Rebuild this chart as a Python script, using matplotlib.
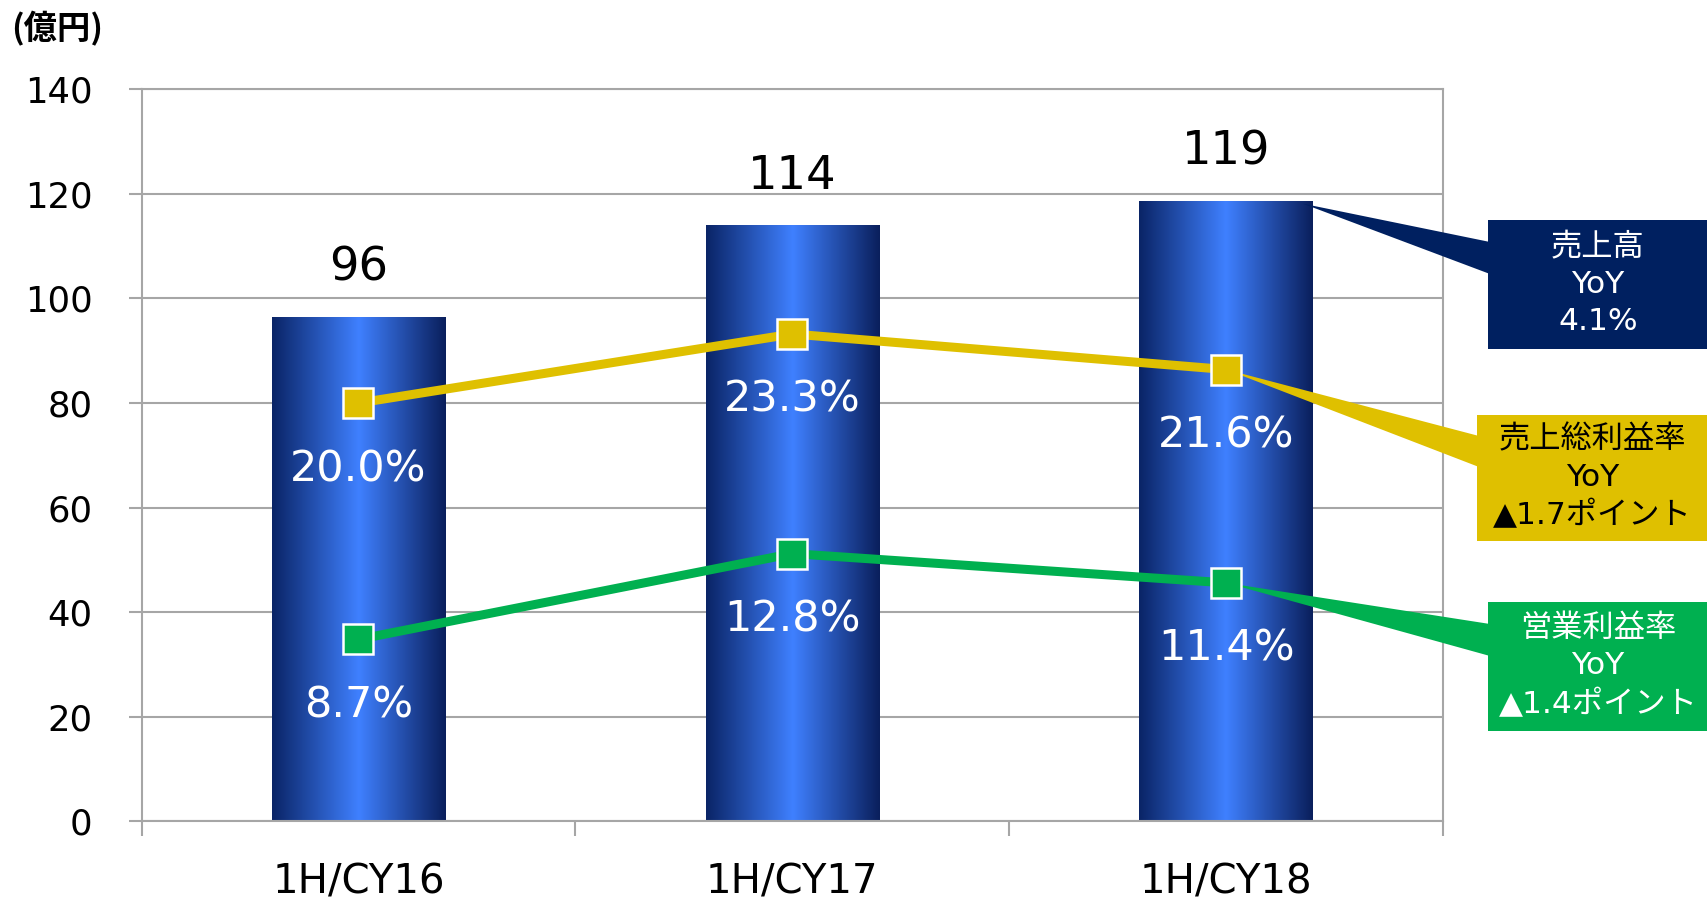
import numpy as np
import matplotlib
matplotlib.use("Agg")
import matplotlib.pyplot as plt
from matplotlib.colors import LinearSegmentedColormap
from matplotlib.patches import Polygon, Rectangle
from matplotlib.transforms import IdentityTransform

# ---- data ----
categories = ["1H/CY16", "1H/CY17", "1H/CY18"]
sales = [96.4, 114.0, 118.7]
sales_labels = ["96", "114", "119"]
gross_margin = [20.0, 23.3, 21.6]
op_margin = [8.7, 12.8, 11.4]
yticks = [0, 20, 40, 60, 80, 100, 120, 140]
callout_texts = ["売上高\nYoY\n4.1%",
                 "売上総利益率\nYoY\n▲1.7ポイント",
                 "営業利益率\nYoY\n▲1.4ポイント"]

NAVY = "#002060"
GOLD = "#DFC000"
GREEN = "#00B050"
GRID = "#A6A6A6"
FONTS = ["DejaVu Sans", "Noto Sans CJK JP"]

W, H = 1708, 902
fig = plt.figure(figsize=(W / 100, H / 100), dpi=100)
ax = fig.add_axes([141.6 / W, 1 - 821.3 / H, (1443 - 141.6) / W, (821.3 - 89.3) / H])

x = np.arange(len(categories))
bars = ax.bar(x, sales, width=0.4, color="none", zorder=2)
cmap = LinearSegmentedColormap.from_list(
    "barg", [(0, "#0A2466"), (0.5, "#3F80FF"), (1, "#0A1F5C")])
grad = np.linspace(0, 1, 256).reshape(1, -1)
for b in bars:
    im = ax.imshow(grad, cmap=cmap, aspect="auto", interpolation="bilinear",
                   extent=[b.get_x(), b.get_x() + b.get_width(), 0, b.get_height()],
                   zorder=2)
    im.set_clip_path(b)

ax.set_xlim(-0.5, 2.5)
ax.set_ylim(0, 140)
ax.set_yticks(yticks)
ax.set_yticklabels([str(v) for v in yticks], fontsize=25.5, family=FONTS)
ax.yaxis.grid(True, color=GRID, lw=1.5)
ax.set_axisbelow(True)
ax.tick_params(axis="y", length=13 / 1.389, width=1.5, color=GRID, pad=26)
ax.set_xticks(x)
ax.set_xticklabels(categories, fontsize=29, family=FONTS)
ax.tick_params(axis="x", which="major", length=0, pad=30)
ax.set_xticks([-0.5, 0.5, 1.5, 2.5], minor=True)
ax.tick_params(axis="x", which="minor", length=15 / 1.389, width=1.5, color=GRID)
for s in ax.spines.values():
    s.set_color(GRID)
    s.set_linewidth(1.5)

for xi, v, lab in zip(x, sales, sales_labels):
    ax.annotate(lab, (xi, v), xytext=(0, 49 * 0.72), textcoords="offset points",
                ha="center", va="center", fontsize=33.5, family=FONTS, color="black")

# margins on hidden secondary axis
ax2 = ax.twinx()
ax2.set_ylim(0, 35)
ax2.set_xlim(-0.5, 2.5)
ax2.axis("off")
for vals, col in [(gross_margin, GOLD), (op_margin, GREEN)]:
    ax2.plot(x, vals, color=col, lw=6.5, marker="s", markersize=21,
             markerfacecolor=col, markeredgecolor="white", markeredgewidth=1.8,
             zorder=4, clip_on=False)
    for xi, v in zip(x, vals):
        ax2.annotate(f"{v:.1f}%", (xi, v), xytext=(0, -66 * 0.72),
                     textcoords="offset points", ha="center", va="center",
                     fontsize=31, family=FONTS, color="white", zorder=5)

# callout boxes (pixel coordinates, top-left origin)
boxes = [(1488, 220, 1708, 349, NAVY, "white"),
         (1477, 415, 1708, 541, GOLD, "black"),
         (1488, 602, 1708, 731, GREEN, "white")]
bases = [(242, 274), (436, 467), (624, 656)]
tips = [ax.transData.transform((2.2, sales[2])) + np.array([-10, -3]),
        ax2.transData.transform((2, gross_margin[2])),
        ax2.transData.transform((2, op_margin[2]))]

for (x0, y0, x1, y1, fc, tc), (b0, b1), tip, txt in zip(boxes, bases, tips, callout_texts):
    poly = Polygon([tip, (x0 + 2, H - b0), (x0 + 2, H - b1)], closed=True,
                   facecolor=fc, edgecolor="none", transform=IdentityTransform(),
                   zorder=1, clip_on=False)
    ax2.add_patch(poly)
    fig.add_artist(Rectangle((x0 / W, 1 - y1 / H), (x1 - x0) / W, (y1 - y0) / H,
                             facecolor=fc, edgecolor="none",
                             transform=fig.transFigure, zorder=2))
    fig.text((x0 + x1) / 2 / W, 1 - (y0 + y1) / 2 / H, txt, ha="center", va="center",
             fontsize=22.5, color=tc, family=FONTS, linespacing=1.35, zorder=3)

fig.text(11 / W, 1 - 29 / H, "(億円)", ha="left", va="center", fontsize=24,
         fontweight="bold", family=["Noto Sans CJK JP", "DejaVu Sans"])

fig.savefig("out.png", dpi=100)
